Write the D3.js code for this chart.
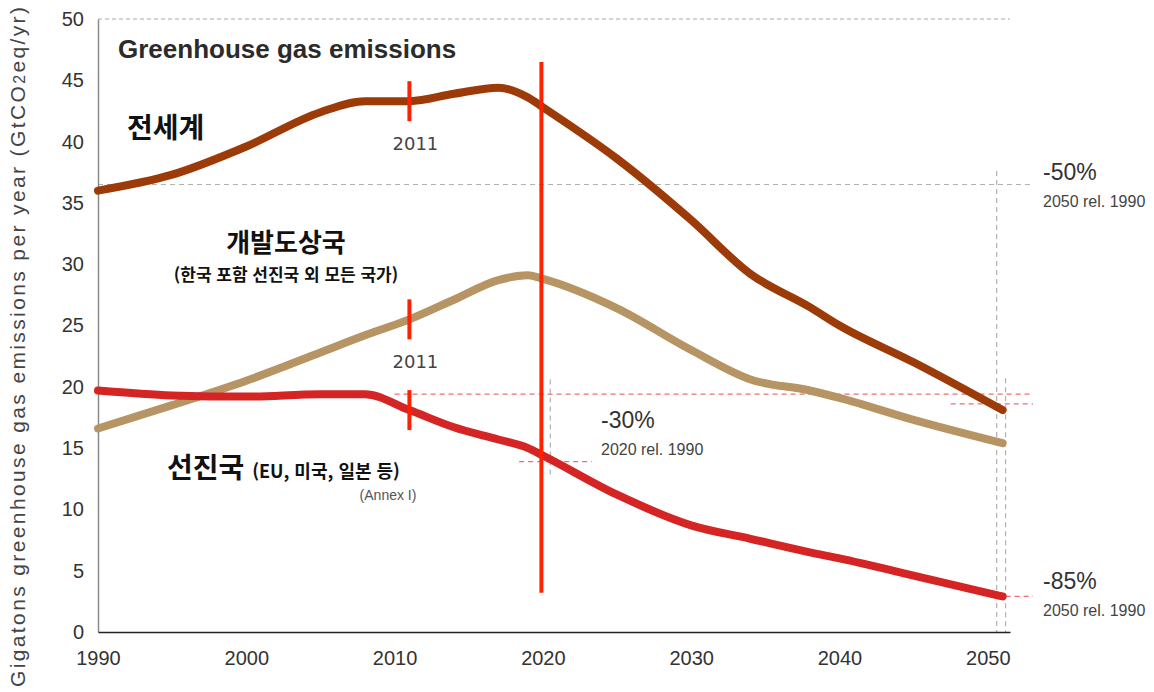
<!DOCTYPE html>
<html lang="ko">
<head>
<meta charset="UTF-8">
<title>Greenhouse gas emissions</title>
<script src="https://d3js.org/d3.v7.min.js"></script>
<style>
  body { margin: 0; background: #fff; }
  svg text { font-family: "Liberation Sans Narrow", "Arial Narrow", "Liberation Sans", sans-serif; }
  .ko { font-family: "Noto Sans CJK KR", "Noto Sans", sans-serif; font-weight: bold; fill: #111; }
</style>
</head>
<body>
<svg width="1154" height="692"></svg>
<script>
// --- data (GtCO2eq/yr) ---
const years     = [1990, 1995, 2000, 2005, 2008, 2011, 2014, 2017, 2019, 2020, 2025, 2030, 2034, 2038, 2040, 2045, 2051];
const world     = [36.0, 37.3, 39.6, 42.4, 43.3, 43.3, 43.9, 44.4, 43.6, 42.8, 38.6, 33.6, 29.2, 26.5, 25.0, 22.0, 18.1];
const developing= [16.6, 18.5, 20.5, 22.8, 24.2, 25.5, 27.1, 28.7, 29.1, 28.8, 26.4, 23.0, 20.6, 19.7, 19.1, 17.3, 15.4];
const developed = [19.7, 19.3, 19.2, 19.4, 19.4, 18.1, 16.7, 15.7, 15.0, 14.4, 11.2, 8.7, 7.6, 6.5, 6.0, 4.6, 2.9];
const xTicks = [1990, 2000, 2010, 2020, 2030, 2040, 2050];
const yTicks = [0, 5, 10, 15, 20, 25, 30, 35, 40, 45, 50];

const svg = d3.select("svg");
const x = d3.scaleLinear().domain([1990, 2051.5]).range([98, 1010]);
const y = d3.scaleLinear().domain([0, 50]).range([632, 19]);

// top dashed gridline at 50
svg.append("line")
  .attr("x1", x(1990)).attr("x2", x(2051.5))
  .attr("y1", y(50)).attr("y2", y(50))
  .attr("stroke", "#aaa").attr("stroke-dasharray", "4 3").attr("stroke-width", 1);

// reference lines (1990 levels etc.)
const grey = "#b0b0b0", pink = "#e87070";
function dash(x1, y1, x2, y2, col) {
  svg.append("line").attr("x1", x1).attr("y1", y1).attr("x2", x2).attr("y2", y2)
    .attr("stroke", col).attr("stroke-width", 1.2).attr("stroke-dasharray", "5 4");
}
dash(x(1990), y(36.5), 1033, y(36.5), grey);
dash(x(2050.6), y(37.6), x(2050.6), y(0), grey);
dash(x(2051.2), y(20.7), x(2051.2), y(0), grey);
dash(x(2020.5), y(20.6), x(2020.5), y(12.8), grey);
dash(x(2010), y(19.4), 1033, y(19.4), pink);
dash(x(2047.5), y(18.6), 1033, y(18.6), pink);
dash(x(2018.4), y(13.9), x(2023.3), y(13.9), pink);
dash(x(2051.2), y(developed[developed.length - 1]), 1033, y(developed[developed.length - 1]), pink);

// axes
const yAxis = svg.append("g").attr("transform", `translate(${x(1990)},0)`)
  .call(d3.axisLeft(y).tickValues(yTicks).tickSize(0).tickPadding(14));
yAxis.select(".domain").attr("stroke", "#8a8a8a").attr("stroke-width", 1.5);
yAxis.selectAll("text").attr("font-size", 20).attr("fill", "#333");

const xAxis = svg.append("g").attr("transform", `translate(0,${y(0)})`)
  .call(d3.axisBottom(x).tickValues(xTicks).tickFormat(d3.format("d")).tickSize(0).tickPadding(19));
xAxis.select(".domain").attr("stroke", "#222").attr("stroke-width", 1.5);
xAxis.selectAll("text").attr("font-size", 20).attr("fill", "#333");

const yt = svg.append("text")
  .attr("transform", `translate(25,347) rotate(-90)`)
  .attr("text-anchor", "middle").attr("font-size", 21).attr("fill", "#444")
  .attr("textLength", 680).attr("lengthAdjust", "spacing")
  .style("font-family", "'Liberation Sans', Arial, sans-serif");
yt.append("tspan").text("Gigatons greenhouse gas emissions per year (GtCO");
yt.append("tspan").attr("font-size", 16).text("2");
yt.append("tspan").text("eq/yr)");

// series
const line = d3.line().x((d, i) => x(years[i])).y(d => y(d)).curve(d3.curveMonotoneX);
[[developing, "#b69464"], [developed, "#d42424"], [world, "#9c3b07"]].forEach(([s, c]) => {
  svg.append("path").attr("d", line(s)).attr("fill", "none")
    .attr("stroke", c).attr("stroke-width", 8).attr("stroke-linecap", "round");
});

// 2020 marker and 2011 ticks
const bright = "#ff2200";
svg.append("line").attr("x1", x(2019.9)).attr("x2", x(2019.9))
  .attr("y1", y(46.5)).attr("y2", y(3.2)).attr("stroke", bright).attr("stroke-width", 4);
[world, developing, developed].forEach(s => {
  const v = s[years.indexOf(2011)];
  svg.append("line").attr("x1", x(2011)).attr("x2", x(2011))
    .attr("y1", y(v) - 20).attr("y2", y(v) + 20).attr("stroke", bright).attr("stroke-width", 4);
});
[150, 368].forEach(py => {
  svg.append("text").attr("x", x(2011) + 6).attr("y", py).attr("text-anchor", "middle")
    .attr("font-size", 18).attr("fill", "#444").style("font-family", "'DejaVu Sans', sans-serif").text("2011");
});

// titles / labels
svg.append("text").attr("x", 118).attr("y", 58).attr("font-size", 26).attr("font-weight", "bold")
  .attr("fill", "#2b2b2b").text("Greenhouse gas emissions");
svg.append("text").attr("class", "ko").attr("x", 127).attr("y", 138).attr("font-size", 28).text("전세계");
svg.append("text").attr("class", "ko").attr("x", 286).attr("y", 252).attr("text-anchor", "middle")
  .attr("font-size", 26).text("개발도상국");
svg.append("text").attr("class", "ko").attr("x", 286).attr("y", 281).attr("text-anchor", "middle")
  .attr("font-size", 17).text("(한국 포함 선진국 외 모든 국가)");
const dv = svg.append("text").attr("class", "ko").attr("x", 167).attr("y", 478);
dv.append("tspan").attr("font-size", 28).text("선진국 ");
dv.append("tspan").attr("font-size", 18).text("(EU, 미국, 일본 등)");
svg.append("text").attr("x", 388).attr("y", 500).attr("text-anchor", "middle")
  .attr("font-size", 14).attr("fill", "#555").text("(Annex I)");

// percent notes
function note(px, py, big, small) {
  svg.append("text").attr("x", px).attr("y", py).attr("font-size", 23).attr("fill", "#333").text(big);
  svg.append("text").attr("x", px).attr("y", py + 27).attr("font-size", 16).attr("fill", "#444").text(small);
}
note(601, 428, "-30%", "2020 rel. 1990");
note(1043, 180, "-50%", "2050 rel. 1990");
note(1043, 589, "-85%", "2050 rel. 1990");
</script>
</body>
</html>
